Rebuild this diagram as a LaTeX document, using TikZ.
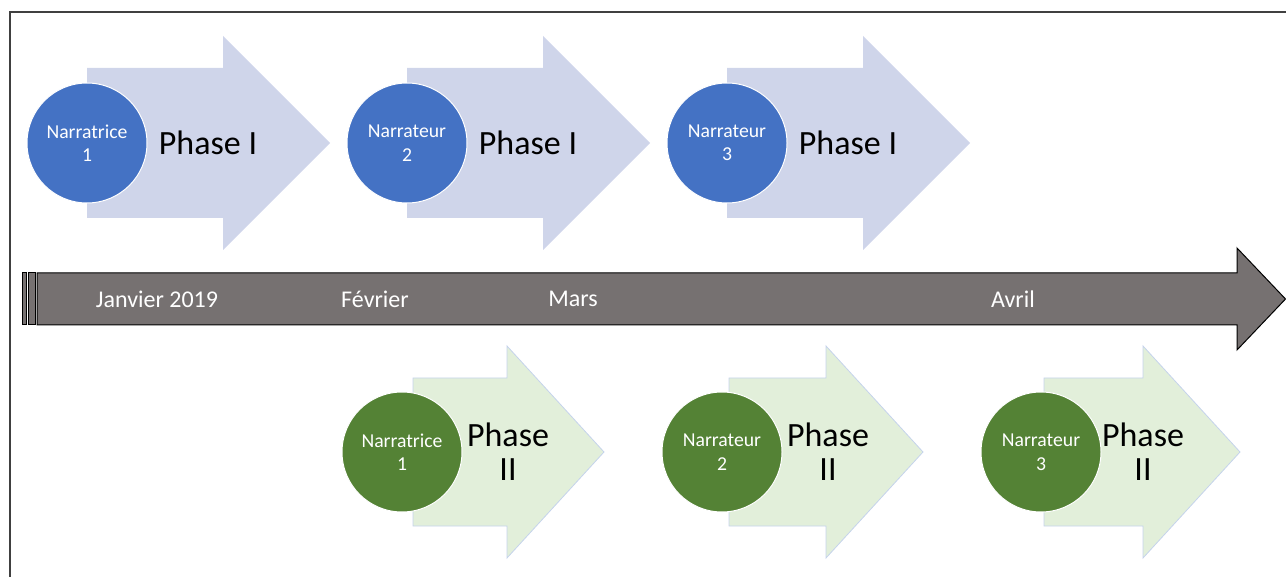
\documentclass[tikz,border=0pt]{standalone}
\usepackage{fontspec}
\setmainfont{Carlito}
\definecolor{frameC}{HTML}{404040}
\definecolor{blueC}{HTML}{4472C4}
\definecolor{blueL}{HTML}{CFD5EA}
\definecolor{greenC}{HTML}{548235}
\definecolor{greenL}{HTML}{E2EFDA}
\definecolor{greenB}{HTML}{C5D3EC}
\definecolor{lineC}{HTML}{767171}
\tikzset{
  topshape/.style={fill=blueL, draw=none},
  botshape/.style={fill=greenL, draw=greenB, line width=0.8pt},
  bluecirc/.style={circle, minimum size=120pt, inner sep=0pt, fill=blueC, draw=white, line width=1pt, text=white, align=center, font=\fontsize{19.7}{23.5}\selectfont},
  greencirc/.style={circle, minimum size=120pt, inner sep=0pt, fill=greenC, draw=white, line width=1pt, text=white, align=center, font=\fontsize{19.7}{23.5}\selectfont},
  phasetxt/.style={text=black, align=center, inner sep=0pt, font=\fontsize{34}{34}\selectfont},
  monthtxt/.style={text=white, inner sep=0pt, font=\fontsize{24}{28}\selectfont},
  timeline/.style={fill=lineC, draw=black, line width=1pt, line join=miter},
}
\begin{document}
\begin{tikzpicture}[x=1pt,y=-1pt]
\useasboundingbox (0,0) rectangle (1286,577);
% frame
\draw[frameC, line width=2pt] (10,577) -- (10,12) -- (1286,12);
% top arrows
\foreach \L in {87,407,727}{
  \fill[topshape] (\L,68) -- (\L+136,68) -- (\L+136,36) -- (\L+243,143) -- (\L+136,250) -- (\L+136,218) -- (\L,218) -- cycle;
}
% bottom arrows
\foreach \L/\B in {413/507,729/826,1044/1143}{
  \filldraw[botshape] (\L,378) -- (\B,378) -- (\B,346) -- (\B+97,452) -- (\B,558) -- (\B,526) -- (\L,526) -- cycle;
}
% timeline
\filldraw[timeline] (22,273) rectangle (26,325);
\filldraw[timeline] (28,273) rectangle (35,325);
\filldraw[timeline] (37,273) -- (1237,273) -- (1237,248) -- (1285.5,299) -- (1237,350) -- (1237,325) -- (37,325) -- cycle;
\node[monthtxt] (m1) at (157,299) {Janvier 2019};
\node[monthtxt] (m2) at (375,299) {Février};
\node[monthtxt] (m3) at (573,299) {Mars};
\node[monthtxt] (m4) at (1013,299) {Avril};
% top circles and labels
\node[bluecirc] (n1) at (87,143) {Narratrice\\1};
\node[bluecirc] (n2) at (407,143) {Narrateur\\2};
\node[bluecirc] (n3) at (727,143) {Narrateur\\3};
\node[phasetxt] (p1) at (208,143) {Phase I};
\node[phasetxt] (p2) at (528,143) {Phase I};
\node[phasetxt] (p3) at (848,143) {Phase I};
% bottom circles and labels
\node[greencirc] (g1) at (402,452) {Narratrice\\1};
\node[greencirc] (g2) at (722,452) {Narrateur\\2};
\node[greencirc] (g3) at (1041,452) {Narrateur\\3};
\node[phasetxt] (q1) at (508,452) {Phase\\II};
\node[phasetxt] (q2) at (828,452) {Phase\\II};
\node[phasetxt] (q3) at (1143,452) {Phase\\II};
\end{tikzpicture}
\end{document}
